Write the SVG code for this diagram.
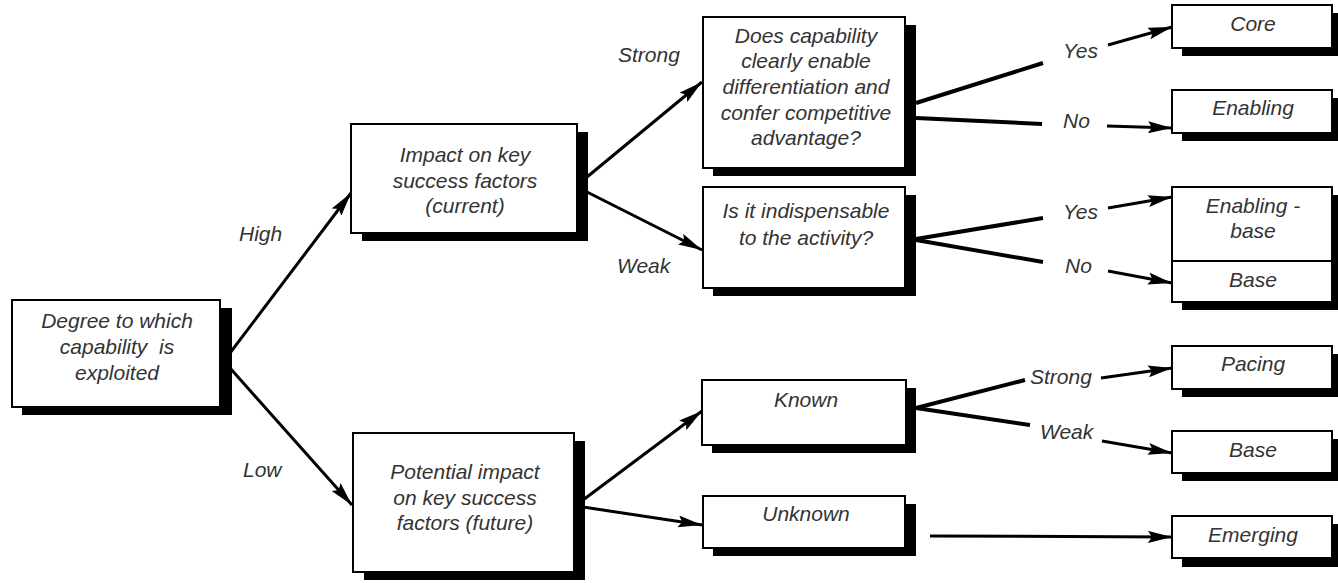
<svg xmlns="http://www.w3.org/2000/svg" width="1338" height="583" viewBox="0 0 1338 583">
  <style>
    .shadow { fill: #000; }
    .box { fill: #fff; stroke: #000; stroke-width: 2; }
    .t { font-family: "Liberation Sans", Arial, sans-serif; font-style: italic; font-size: 21px; fill: #333; text-anchor: middle; }
    .lbl { font-family: "Liberation Sans", Arial, sans-serif; font-style: italic; font-size: 21px; fill: #333; }
    .arrow { stroke: #000; stroke-width: 3; fill: none; marker-end: url(#head); }
    .branch { stroke: #000; stroke-width: 4; fill: none; }
  </style>
  <defs>
    <marker id="head" markerUnits="userSpaceOnUse" markerWidth="26" markerHeight="12" refX="24" refY="6" orient="auto">
      <path d="M0,0 L24,6 L0,12 L4,6 Z" fill="#000"/>
    </marker>
  </defs>

  <rect width="1338" height="583" fill="#fff"/>

  <!-- connectors -->
  <g id="connectors">
    <line class="arrow" x1="230" y1="353" x2="351" y2="193"/>
    <line class="arrow" x1="230" y1="368" x2="352" y2="505"/>
    <line class="arrow" x1="587" y1="177" x2="702" y2="82"/>
    <line class="arrow" x1="587" y1="192" x2="702" y2="250"/>
    <line class="arrow" x1="583" y1="500" x2="702" y2="411"/>
    <line class="arrow" x1="583" y1="507" x2="702" y2="525"/>

    <line class="branch" x1="916" y1="103" x2="1043" y2="63"/>
    <line class="branch" x1="916" y1="118" x2="1042" y2="124"/>
    <line class="branch" x1="916" y1="239" x2="1043" y2="218"/>
    <line class="branch" x1="916" y1="240" x2="1043" y2="262"/>
    <line class="branch" x1="916" y1="408" x2="1025" y2="380"/>
    <line class="branch" x1="916" y1="408" x2="1030" y2="425"/>

    <line class="arrow" x1="1108" y1="45" x2="1172" y2="27"/>
    <line class="arrow" x1="1107" y1="126" x2="1172" y2="128"/>
    <line class="arrow" x1="1108" y1="208" x2="1172" y2="197"/>
    <line class="arrow" x1="1108" y1="271" x2="1172" y2="283"/>
    <line class="arrow" x1="1101" y1="378" x2="1172" y2="368"/>
    <line class="arrow" x1="1102" y1="441" x2="1172" y2="453"/>
    <line class="arrow" x1="930" y1="536" x2="1172" y2="537"/>
  </g>

  <!-- branch labels -->
  <g id="labels">
    <text class="lbl" x="239" y="241">High</text>
    <text class="lbl" x="243" y="477">Low</text>
    <text class="lbl" x="618" y="62">Strong</text>
    <text class="lbl" x="617" y="273">Weak</text>
    <text class="lbl" x="1063" y="58">Yes</text>
    <text class="lbl" x="1063" y="128">No</text>
    <text class="lbl" x="1063" y="219">Yes</text>
    <text class="lbl" x="1065" y="273">No</text>
    <text class="lbl" x="1030" y="384">Strong</text>
    <text class="lbl" x="1040" y="439">Weak</text>
  </g>

  <g id="degree">
    <rect class="shadow" x="22" y="308" width="210" height="107"/>
    <rect class="box" x="12" y="300" width="208" height="107"/>
    <text class="t" x="117" y="328">Degree to which</text>
    <text class="t" x="117" y="354" xml:space="preserve">capability  is</text>
    <text class="t" x="117" y="380">exploited</text>
  </g>

  <g id="impact-current">
    <rect class="shadow" x="362" y="132" width="226" height="109"/>
    <rect class="box" x="351" y="124" width="226" height="109"/>
    <text class="t" x="465" y="162">Impact on key</text>
    <text class="t" x="465" y="188">success factors</text>
    <text class="t" x="465" y="213">(current)</text>
  </g>

  <g id="impact-future">
    <rect class="shadow" x="364" y="441" width="221" height="139"/>
    <rect class="box" x="353" y="433" width="221" height="139"/>
    <text class="t" x="465" y="479">Potential impact</text>
    <text class="t" x="465" y="505">on key success</text>
    <text class="t" x="465" y="530">factors (future)</text>
  </g>

  <g id="differentiation">
    <rect class="shadow" x="713" y="25" width="203" height="151"/>
    <rect class="box" x="703" y="17" width="202" height="151"/>
    <text class="t" x="806" y="43">Does capability</text>
    <text class="t" x="806" y="68">clearly enable</text>
    <text class="t" x="806" y="94">differentiation and</text>
    <text class="t" x="806" y="120">confer competitive</text>
    <text class="t" x="806" y="145">advantage?</text>
  </g>

  <g id="indispensable">
    <rect class="shadow" x="713" y="195" width="203" height="101"/>
    <rect class="box" x="703" y="187" width="202" height="101"/>
    <text class="t" x="806" y="218">Is it indispensable</text>
    <text class="t" x="806" y="245">to the activity?</text>
  </g>

  <g id="known">
    <rect class="shadow" x="712" y="388" width="204" height="65"/>
    <rect class="box" x="702" y="380" width="204" height="65"/>
    <text class="t" x="806" y="407">Known</text>
  </g>

  <g id="unknown">
    <rect class="shadow" x="713" y="504" width="203" height="52"/>
    <rect class="box" x="703" y="496" width="202" height="52"/>
    <text class="t" x="806" y="521">Unknown</text>
  </g>

  <g id="core">
    <rect class="shadow" x="1182" y="13" width="160" height="43"/>
    <rect class="box" x="1172" y="5" width="160" height="43"/>
    <text class="t" x="1253" y="31">Core</text>
  </g>

  <g id="enabling">
    <rect class="shadow" x="1182" y="98" width="160" height="43"/>
    <rect class="box" x="1172" y="90" width="160" height="43"/>
    <text class="t" x="1253" y="115">Enabling</text>
  </g>

  <g id="enabling-base">
    <rect class="shadow" x="1182" y="195" width="160" height="115"/>
    <rect class="box" x="1172" y="187" width="160" height="74"/>
    <text class="t" x="1253" y="213">Enabling -</text>
    <text class="t" x="1253" y="238">base</text>
  </g>

  <g id="base-upper">
    <rect class="box" x="1172" y="261" width="160" height="41"/>
    <text class="t" x="1253" y="287">Base</text>
  </g>

  <g id="pacing">
    <rect class="shadow" x="1182" y="354" width="160" height="43"/>
    <rect class="box" x="1172" y="346" width="160" height="43"/>
    <text class="t" x="1253" y="371">Pacing</text>
  </g>

  <g id="base-lower">
    <rect class="shadow" x="1182" y="439" width="160" height="42"/>
    <rect class="box" x="1172" y="431" width="160" height="42"/>
    <text class="t" x="1253" y="457">Base</text>
  </g>

  <g id="emerging">
    <rect class="shadow" x="1182" y="524" width="160" height="43"/>
    <rect class="box" x="1172" y="516" width="160" height="42"/>
    <text class="t" x="1253" y="542">Emerging</text>
  </g>
</svg>
